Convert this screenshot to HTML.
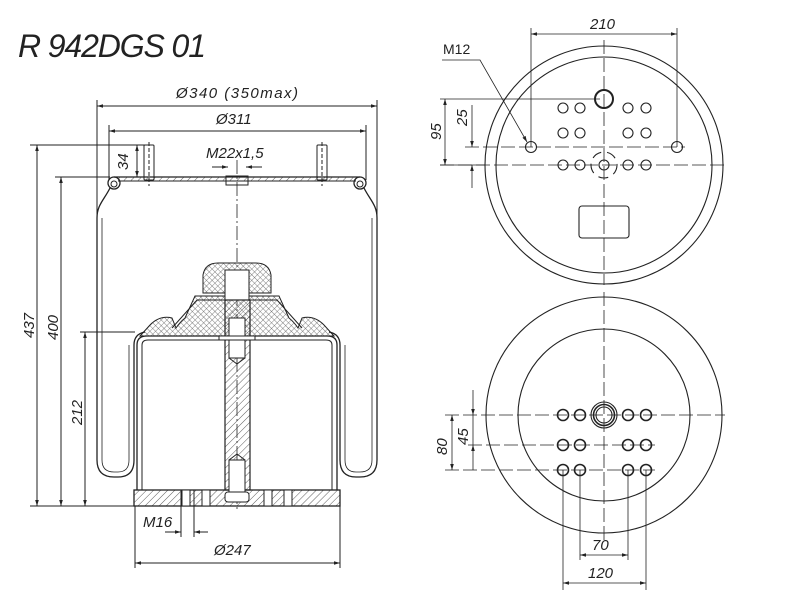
<!DOCTYPE html>
<html><head><meta charset="utf-8"><style>
html,body{margin:0;padding:0;background:#fff;width:800px;height:600px;overflow:hidden}
text{font-family:"Liberation Sans",sans-serif;font-style:italic;fill:#222}
</style></head><body>
<svg width="800" height="600" viewBox="0 0 800 600" xmlns="http://www.w3.org/2000/svg">
<defs>
<pattern id="h" width="5" height="5" patternUnits="userSpaceOnUse" patternTransform="rotate(45)"><line x1="0" y1="0" x2="0" y2="5" stroke="#333" stroke-width="0.8"/></pattern>
<pattern id="x" width="4" height="4" patternUnits="userSpaceOnUse" patternTransform="rotate(45)"><path d="M0 0V4M0 0H4" stroke="#555" stroke-width="0.7"/></pattern>
<marker id="a" viewBox="0 0 10 10" refX="10" refY="5" markerWidth="9" markerHeight="6" orient="auto-start-reverse" markerUnits="userSpaceOnUse"><path d="M0 2L10 5L0 8Z" fill="#222"/></marker>
</defs>
<text x="18" y="57" font-size="32" textLength="188" style="font-weight:normal" fill="#333">R 942DGS 01</text>
<g stroke="#222" fill="none" stroke-width="1">
<!-- left extension/dim lines -->
<line x1="97" y1="100" x2="97" y2="330"/><line x1="377" y1="100" x2="377" y2="330"/>
<line x1="97" y1="106" x2="377" y2="106" marker-start="url(#a)" marker-end="url(#a)"/>
<line x1="109" y1="125" x2="109" y2="180"/><line x1="366" y1="125" x2="366" y2="180"/>
<line x1="109" y1="131" x2="366" y2="131" marker-start="url(#a)" marker-end="url(#a)"/>
<line x1="30" y1="145" x2="150" y2="145"/><line x1="55" y1="177" x2="110" y2="177"/>
<line x1="30" y1="506" x2="135" y2="506"/><line x1="80" y1="332" x2="135" y2="332"/>
<line x1="37" y1="145" x2="37" y2="506" marker-start="url(#a)" marker-end="url(#a)"/>
<line x1="61" y1="177" x2="61" y2="506" marker-start="url(#a)" marker-end="url(#a)"/>
<line x1="85" y1="332" x2="85" y2="506" marker-start="url(#a)" marker-end="url(#a)"/>
<line x1="137" y1="145" x2="137" y2="177" marker-start="url(#a)" marker-end="url(#a)"/>
<line x1="135" y1="506" x2="135" y2="568"/><line x1="340" y1="506" x2="340" y2="568"/>
<line x1="135" y1="563" x2="340" y2="563" marker-start="url(#a)" marker-end="url(#a)"/>
<line x1="181" y1="490" x2="181" y2="537"/><line x1="194" y1="490" x2="194" y2="537"/>
<line x1="165" y1="532" x2="181" y2="532" marker-end="url(#a)"/><line x1="208" y1="532" x2="194" y2="532" marker-end="url(#a)"/>
<line x1="212" y1="167" x2="228" y2="167" marker-end="url(#a)"/><line x1="262" y1="167" x2="246" y2="167" marker-end="url(#a)"/>
<!-- centerline -->
<line x1="237" y1="160" x2="237" y2="512" stroke-dasharray="14 3 2 3" stroke-width="0.8"/>
<!-- top plate -->
<path d="M114 177H360" stroke-width="1.3"/><path d="M118 181H356" />
<rect x="118" y="177" width="238" height="4" fill="url(#h)" stroke="none"/>
<circle cx="114" cy="183" r="6" stroke-width="1.3"/><circle cx="114" cy="184" r="3"/>
<circle cx="360" cy="183" r="6" stroke-width="1.3"/><circle cx="360" cy="184" r="3"/>
<rect x="144" y="145" width="10" height="35" rx="1"/><line x1="149" y1="142" x2="149" y2="186" stroke-dasharray="4 2"/>
<rect x="317" y="145" width="10" height="35" rx="1"/><line x1="322" y1="142" x2="322" y2="186" stroke-dasharray="4 2"/>
<rect x="226" y="176" width="22" height="9"/>
<!-- bellows -->
<path d="M110 188 C104 200 97 205 97 218 V460 Q97 477 114 477 H118 Q134 477 134 460 V345 Q134 334 145 332" stroke-width="1.3"/>
<path d="M102 218 V460 Q102 472 114 472 H118 Q129 472 129 460 V345" stroke-width="0.8"/>
<path d="M364 188 C370 200 377 205 377 218 V460 Q377 477 360 477 H356 Q340 477 340 460 V345 Q340 334 329 332" stroke-width="1.3"/>
<path d="M372 218 V460 Q372 472 360 472 H356 Q345 472 345 460 V345" stroke-width="0.8"/>
<!-- piston -->
<path d="M137 490 V345 Q137 336 147 336 H327 Q337 336 337 345 V490" stroke-width="1.3"/>
<path d="M142 490 V345 Q142 340 148 340 H326 Q332 340 332 345 V490"/>
<path d="M150 325 Q160 315 172 318 L176 328 Q180 322 185 318 L195 296 H279 L289 318 Q294 322 298 328 L302 318 Q314 315 324 325 L334 336 H140 Z" fill="url(#x)"/>
<path d="M172 328 L197 300 H277 L302 328" />
<path d="M203 293 V275 Q205 263 218 263 H256 Q269 263 271 275 V293 Z" fill="url(#x)"/>
<rect x="225" y="270" width="24" height="30" fill="#fff"/>
<rect x="134" y="490" width="206" height="16" fill="url(#h)" stroke-width="1.3"/>
<rect x="182" y="490" width="8" height="16" fill="#fff"/><rect x="202" y="490" width="8" height="16" fill="#fff"/>
<rect x="264" y="490" width="8" height="16" fill="#fff"/><rect x="284" y="490" width="8" height="16" fill="#fff"/>
<rect x="225" y="300" width="25" height="190" fill="url(#h)" stroke-width="1.2"/>
<rect x="229" y="318" width="16" height="40" fill="#fff"/><path d="M229 358 L237 364 L245 358"/>
<rect x="229" y="460" width="16" height="32" fill="#fff"/><path d="M229 460 L237 454 L245 460"/>
<rect x="225" y="492" width="24" height="10" rx="3" fill="#fff"/>
<rect x="219" y="336" width="36" height="4" fill="#fff"/>
</g>
<g font-size="15">
<text x="176" y="98" textLength="122">Ø340 (350max)</text>
<text x="216" y="124">Ø311</text>
<text x="206" y="158">M22x1,5</text>
<text x="143" y="527">M16</text>
<text x="214" y="555">Ø247</text>
<text transform="translate(128,170) rotate(-90)">34</text>
<text transform="translate(34,338) rotate(-90)">437</text>
<text transform="translate(58,340) rotate(-90)">400</text>
<text transform="translate(82,425) rotate(-90)">212</text>
</g>
<!-- right top view -->
<g stroke="#222" fill="none" stroke-width="1.1">
<circle cx="604" cy="165" r="119"/><circle cx="604" cy="165" r="108"/>
<line x1="604" y1="40" x2="604" y2="285" stroke-dasharray="14 4" stroke-width="0.8"/>
<line x1="440" y1="165" x2="725" y2="165" stroke-dasharray="14 4" stroke-width="0.8"/>
<line x1="465" y1="147" x2="685" y2="147" stroke-dasharray="14 4" stroke-width="0.8"/>
<circle cx="604" cy="99" r="9" stroke-width="2"/>
<g><circle cx="563" cy="108" r="5"/><circle cx="580" cy="108" r="5"/><circle cx="628" cy="108" r="5"/><circle cx="646" cy="108" r="5"/>
<circle cx="563" cy="133" r="5"/><circle cx="580" cy="133" r="5"/><circle cx="628" cy="133" r="5"/><circle cx="646" cy="133" r="5"/>
<circle cx="563" cy="165" r="5"/><circle cx="580" cy="165" r="5"/><circle cx="628" cy="165" r="5"/><circle cx="646" cy="165" r="5"/></g>
<circle cx="604" cy="165" r="5"/><circle cx="604" cy="165" r="13" stroke-dasharray="10 6"/>
<circle cx="531" cy="147" r="5.5"/><circle cx="677" cy="147" r="5.5"/>
<rect x="579" y="206" width="50" height="32" rx="3"/>
<line x1="531" y1="28" x2="531" y2="147" stroke-width="0.8"/><line x1="677" y1="28" x2="677" y2="147" stroke-width="0.8"/>
<line x1="531" y1="34" x2="677" y2="34" marker-start="url(#a)" marker-end="url(#a)" stroke-width="0.8"/>
<path d="M442 60 H480 L527 142" marker-end="url(#a)" stroke-width="0.8"/>
<line x1="440" y1="99" x2="600" y2="99" stroke-width="0.8"/>
<line x1="440" y1="165" x2="485" y2="165" stroke-width="0.8"/>
<line x1="445" y1="99" x2="445" y2="165" marker-start="url(#a)" marker-end="url(#a)" stroke-width="0.8"/>
<line x1="472" y1="105" x2="472" y2="147" marker-end="url(#a)" stroke-width="0.8"/>
<line x1="472" y1="188" x2="472" y2="165" marker-end="url(#a)" stroke-width="0.8"/>
</g>
<g font-size="15">
<text x="590" y="29">210</text>
<text x="443" y="54" style="font-style:normal" font-size="14">M12</text>
<text transform="translate(441,140) rotate(-90)">95</text>
<text transform="translate(467,126) rotate(-90)">25</text>
</g>
<!-- right bottom view -->
<g stroke="#222" fill="none" stroke-width="1.1">
<circle cx="604" cy="415" r="118"/><circle cx="604" cy="415" r="86"/>
<line x1="604" y1="292" x2="604" y2="540" stroke-dasharray="14 4" stroke-width="0.8"/>
<line x1="445" y1="415" x2="725" y2="415" stroke-dasharray="14 4" stroke-width="0.8"/>
<line x1="468" y1="445" x2="655" y2="445" stroke-dasharray="14 4" stroke-width="0.8"/>
<line x1="445" y1="470" x2="655" y2="470" stroke-dasharray="14 4" stroke-width="0.8"/>
<circle cx="604" cy="415" r="13"/><circle cx="604" cy="415" r="10.5" stroke-width="1.6"/><circle cx="604" cy="415" r="8"/>
<g stroke-width="1.6"><circle cx="563" cy="415" r="5.5"/><circle cx="580" cy="415" r="5.5"/><circle cx="628" cy="415" r="5.5"/><circle cx="646" cy="415" r="5.5"/>
<circle cx="563" cy="445" r="5.5"/><circle cx="580" cy="445" r="5.5"/><circle cx="628" cy="445" r="5.5"/><circle cx="646" cy="445" r="5.5"/>
<circle cx="563" cy="470" r="5.5"/><circle cx="580" cy="470" r="5.5"/><circle cx="628" cy="470" r="5.5"/><circle cx="646" cy="470" r="5.5"/></g>
<g stroke-width="0.8">
<line x1="563" y1="470" x2="563" y2="590"/><line x1="646" y1="470" x2="646" y2="590"/>
<line x1="580" y1="470" x2="580" y2="560"/><line x1="628" y1="470" x2="628" y2="560"/>
<line x1="580" y1="555" x2="628" y2="555" marker-start="url(#a)" marker-end="url(#a)"/>
<line x1="563" y1="583" x2="646" y2="583" marker-start="url(#a)" marker-end="url(#a)"/>
<line x1="452" y1="415" x2="452" y2="470" marker-start="url(#a)" marker-end="url(#a)"/>
<line x1="473" y1="390" x2="473" y2="415" marker-end="url(#a)"/>
<line x1="473" y1="470" x2="473" y2="445" marker-end="url(#a)"/>
<line x1="473" y1="415" x2="473" y2="445"/>
</g>
</g>
<g font-size="15">
<text x="592" y="550">70</text>
<text x="588" y="578">120</text>
<text transform="translate(447,455) rotate(-90)">80</text>
<text transform="translate(468,445) rotate(-90)">45</text>
</g>
</svg>
</body></html>
